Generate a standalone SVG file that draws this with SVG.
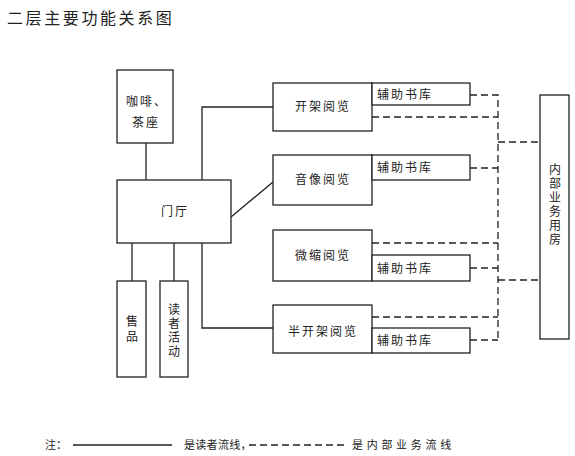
<svg xmlns="http://www.w3.org/2000/svg" width="575" height="456" viewBox="0 0 575 456">
<style>
rect{fill:#fff;stroke:#222;stroke-width:1.3}
.s{fill:none;stroke:#222;stroke-width:1.3}
.d{fill:none;stroke:#222;stroke-width:1.3;stroke-dasharray:7 4}
text{font-family:"Noto Sans CJK SC","Noto Sans",sans-serif;fill:#222;font-size:12px}
.c{text-anchor:middle;letter-spacing:2px}
.a{letter-spacing:2px}
.v{writing-mode:vertical-rl;text-orientation:upright;letter-spacing:2px}
</style>
<rect x="0" y="0" width="575" height="456" style="stroke:none"/>
<text x="7" y="24" style="font-size:16px;letter-spacing:2.6px">二层主要功能关系图</text>
<g id="connectors">
<path class="s" d="M146 143V180M202 180V107H273M231 217L273 182M132 243V281M174 243V281M202 243V328H273"/>
<path class="d" d="M470 95H498V340M372 117H498M470 168H498M372 243H498M470 268H498M372 317H498M470 340H498M498 142H540M498 280H540"/>
</g>
<g id="coffee"><rect x="117" y="70" width="56" height="73"/><text class="c" x="147" y="106">咖啡、</text><text class="c" x="146" y="127">茶座</text></g>
<g id="hall"><rect x="117" y="180" width="114" height="63"/><text class="c" x="175" y="216">门厅</text></g>
<g id="kaijia"><rect x="273" y="83" width="99" height="48"/><text class="c" x="323" y="111">开架阅览</text></g>
<g id="aux1"><rect x="372" y="83" width="98" height="22"/><text class="a" x="377" y="99">辅助书库</text></g>
<g id="yinxiang"><rect x="273" y="155" width="99" height="50"/><text class="c" x="323" y="184">音像阅览</text></g>
<g id="aux2"><rect x="372" y="155" width="98" height="25"/><text class="a" x="377" y="172">辅助书库</text></g>
<g id="weisuo"><rect x="273" y="230" width="99" height="51"/><text class="c" x="323" y="260">微缩阅览</text></g>
<g id="aux3"><rect x="372" y="255" width="98" height="26"/><text class="a" x="377" y="273">辅助书库</text></g>
<g id="banjia"><rect x="273" y="305" width="99" height="48"/><text class="c" x="323" y="336">半开架阅览</text></g>
<g id="aux4"><rect x="372" y="328" width="98" height="25"/><text class="a" x="377" y="345">辅助书库</text></g>
<g id="internal"><rect x="540" y="95" width="29" height="244"/>
<text class="v" x="555" y="163">内部业务用房</text></g>
<g id="shoupin"><rect x="117" y="281" width="29" height="96"/><text class="v" x="132" y="315" style="letter-spacing:3px">售品</text></g>
<g id="duzhe"><rect x="160" y="281" width="28" height="96"/><text class="v" x="174" y="303">读者活动</text></g>
<g id="legend">
<text x="45" y="449" style="font-size:11px">注：</text>
<path class="s" d="M73 445H172"/>
<text x="184" y="449" style="font-size:11px;letter-spacing:0.3px">是读者流线，</text>
<path class="d" d="M249 445H347"/>
<text x="352" y="449" style="font-size:11px;letter-spacing:3.7px">是内部业务流线</text>
</g>
</svg>
